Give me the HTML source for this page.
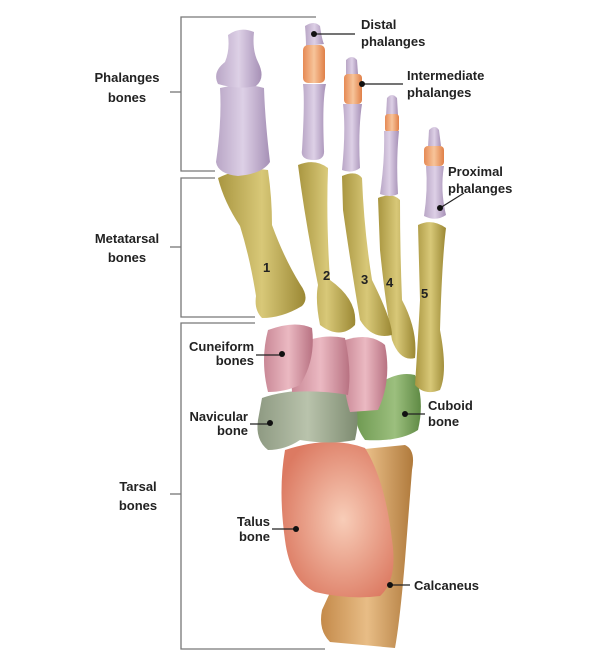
<!DOCTYPE html>
<html><head><meta charset="utf-8"><style>
html,body{margin:0;padding:0;background:#fff;}
svg{display:block}
text{font-family:"Liberation Sans",Arial,sans-serif;font-weight:bold;font-size:13px;fill:#222;}
.n{font-family:"Liberation Sans",sans-serif;font-weight:bold;font-size:13px;fill:#222}
</style></head><body>
<svg width="606" height="667" viewBox="0 0 606 667" xmlns="http://www.w3.org/2000/svg">
<defs>
<linearGradient id="lav" x1="0" x2="1"><stop offset="0" stop-color="#b9a6c6"/><stop offset=".5" stop-color="#ddd0e6"/><stop offset="1" stop-color="#a690b6"/></linearGradient>
<linearGradient id="org" x1="0" x2="1"><stop offset="0" stop-color="#e68a55"/><stop offset=".5" stop-color="#f7c49a"/><stop offset="1" stop-color="#e08048"/></linearGradient>
<linearGradient id="met" x1="0" x2="1"><stop offset="0" stop-color="#a99640"/><stop offset=".5" stop-color="#d8c878"/><stop offset="1" stop-color="#9b8834"/></linearGradient>
<linearGradient id="pink" x1="0" x2="1"><stop offset="0" stop-color="#c98896"/><stop offset=".5" stop-color="#ebb9c2"/><stop offset="1" stop-color="#b87282"/></linearGradient>
<linearGradient id="grn" x1="0" x2="1"><stop offset="0" stop-color="#6f9a52"/><stop offset=".6" stop-color="#9cbf7e"/><stop offset="1" stop-color="#5f8a44"/></linearGradient>
<linearGradient id="nav" x1="0" x2="1"><stop offset="0" stop-color="#8e9a82"/><stop offset=".5" stop-color="#b9c3ac"/><stop offset="1" stop-color="#7d8b70"/></linearGradient>
<radialGradient id="tal" cx=".55" cy=".5" r=".6"><stop offset="0" stop-color="#f8cdb8"/><stop offset="1" stop-color="#dc7a62"/></radialGradient>
<linearGradient id="cal" x1="0" x2="1"><stop offset="0" stop-color="#c48a4a"/><stop offset=".5" stop-color="#e8bd86"/><stop offset="1" stop-color="#b07a3c"/></linearGradient>
</defs>
<g stroke="#777" stroke-width="1.3" fill="none">
<path d="M316 17 H181 V171 H215"/><path d="M170 92 H181"/>
<path d="M215 178 H181 V317 H255"/><path d="M170 247 H181"/>
<path d="M255 323 H181 V649 H325"/><path d="M170 494 H181"/>
</g>
<path d="M355 450 L405 445 Q416 450 412 470 L405 560 Q400 620 395 648 L330 642 Q318 630 322 610 L345 560 Z" fill="url(#cal)"/>
<path d="M285 450 Q330 435 365 448 Q385 480 392 540 Q398 580 380 596 Q350 600 315 592 Q290 580 285 540 Q278 490 285 450 Z" fill="url(#tal)"/>
<path d="M370 390 Q395 370 415 375 Q425 400 418 430 Q400 442 365 440 Q350 420 360 400 Z" fill="url(#grn)"/>
<path d="M262 398 Q300 385 350 395 Q362 410 355 440 Q330 445 300 440 Q285 450 268 450 Q255 440 258 420 Z" fill="url(#nav)"/>
<path d="M345 340 Q370 332 385 345 Q392 380 378 410 L350 412 Q340 380 345 340 Z" fill="url(#pink)"/>
<path d="M298 345 Q320 333 345 338 Q352 370 348 395 Q320 390 292 392 Q290 365 298 345 Z" fill="url(#pink)"/>
<path d="M268 330 Q295 320 312 328 Q316 360 300 385 Q285 392 268 392 Q260 360 268 330 Z" fill="url(#pink)"/>
<path d="M418 225 Q432 218 446 228 Q442 260 440 330 Q448 372 440 390 Q425 396 415 385 Q418 340 420 300 Z" fill="url(#met)"/>
<path d="M378 198 Q392 192 400 200 Q400 250 402 300 Q418 330 415 358 Q400 362 392 340 Q385 300 380 250 Z" fill="url(#met)"/>
<path d="M342 176 Q356 170 362 178 Q364 230 372 280 Q392 320 392 335 Q372 340 360 320 Q350 260 343 210 Z" fill="url(#met)"/>
<path d="M298 165 Q315 158 328 168 Q326 220 330 280 Q358 300 355 325 Q340 340 320 325 Q315 300 318 285 Q305 220 298 165 Z" fill="url(#met)"/>
<path d="M218 178 Q242 166 268 170 Q272 198 272 225 Q284 258 300 284 Q310 298 302 306 Q282 318 262 318 Q254 310 256 296 Q250 258 240 226 Q224 202 218 178 Z" fill="url(#met)"/>
<path d="M220 88 Q245 82 264 88 Q265 120 270 162 Q262 174 238 176 Q218 174 216 162 Q222 120 220 88 Z" fill="url(#lav)"/>
<path d="M228 35 Q240 26 254 32 Q252 50 258 62 Q266 78 256 86 Q238 90 218 84 Q212 72 225 62 Q230 50 228 35 Z" fill="url(#lav)"/>
<path d="M305 26 Q314 20 320 26 Q322 40 324 44 L306 46 Q306 38 305 26 Z" fill="url(#lav)"/>
<rect x="303" y="45" width="22" height="38" rx="5" fill="url(#org)"/>
<path d="M303 84 H326 Q322 100 324 150 Q325 160 314 160 Q300 160 302 150 Q305 100 303 84 Z" fill="url(#lav)"/>
<path d="M346 60 Q352 54 357 60 L358 74 L346 75 Z" fill="url(#lav)"/>
<rect x="344" y="74" width="18" height="30" rx="4" fill="url(#org)"/>
<path d="M343 104 H362 Q358 130 360 168 Q352 174 342 170 Q346 130 343 104 Z" fill="url(#lav)"/>
<path d="M387 98 Q392 92 397 98 L398 115 L386 116 Z" fill="url(#lav)"/>
<rect x="385" y="114" width="14" height="18" rx="3" fill="url(#org)"/>
<path d="M384 131 H399 Q396 160 398 194 Q390 198 380 194 Q385 160 384 131 Z" fill="url(#lav)"/>
<path d="M429 130 Q435 124 439 130 L441 146 L428 147 Z" fill="url(#lav)"/>
<rect x="424" y="146" width="20" height="20" rx="4" fill="url(#org)"/>
<path d="M426 166 H444 Q440 190 446 215 Q436 222 424 216 Q428 190 426 166 Z" fill="url(#lav)"/>
<text class="n" x="263" y="272">1</text>
<text class="n" x="323" y="280">2</text>
<text class="n" x="361" y="284">3</text>
<text class="n" x="386" y="287">4</text>
<text class="n" x="421" y="298">5</text>
<g stroke="#222" stroke-width="1.2" fill="none">
<path d="M314 34 H355"/><path d="M362 84 H403"/><path d="M440 208 L464 193"/>
<path d="M256 355 H282"/><path d="M250 424 H270"/><path d="M405 414 H425"/>
<path d="M272 529 H296"/><path d="M390 585 H410"/>
</g>
<g fill="#111">
<circle cx="314" cy="34" r="3"/><circle cx="362" cy="84" r="3"/><circle cx="440" cy="208" r="3"/>
<circle cx="282" cy="354" r="3"/><circle cx="270" cy="423" r="3"/><circle cx="405" cy="414" r="3"/>
<circle cx="296" cy="529" r="3"/><circle cx="390" cy="585" r="3"/>
</g>
<text x="361" y="29">Distal</text><text x="361" y="46">phalanges</text>
<text x="407" y="80">Intermediate</text><text x="407" y="97">phalanges</text>
<text x="448" y="176">Proximal</text><text x="448" y="193">phalanges</text>
<text x="428" y="410">Cuboid</text><text x="428" y="426">bone</text>
<text x="414" y="590">Calcaneus</text>
<g text-anchor="end">
<text x="254" y="351">Cuneiform</text><text x="254" y="365">bones</text>
<text x="248" y="421">Navicular</text><text x="248" y="435">bone</text>
<text x="270" y="526">Talus</text><text x="270" y="541">bone</text>
</g>
<g text-anchor="middle" style="font-size:14px">
<text x="127" y="82">Phalanges</text><text x="127" y="102">bones</text>
<text x="127" y="243">Metatarsal</text><text x="127" y="262">bones</text>
<text x="138" y="491">Tarsal</text><text x="138" y="510">bones</text>
</g>
</svg>
</body></html>
